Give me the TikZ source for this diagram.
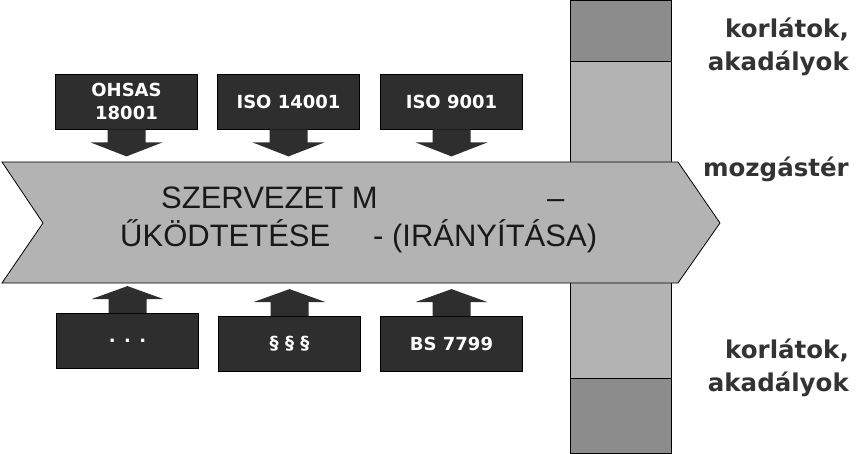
\documentclass[tikz,border=0pt]{standalone}
\usepackage{fontspec}
\setmainfont{DejaVu Sans}
\newfontfamily\arrowfont{Liberation Sans}
\usepackage{tikz}
\usetikzlibrary{positioning, calc}
\definecolor{boxdark}{RGB}{46, 46, 46}
\definecolor{arrowgray}{RGB}{179, 179, 179}
\definecolor{bardark}{RGB}{140, 140, 140}
\definecolor{labeldark}{RGB}{51, 51, 51}

\tikzset{
    stdbox/.style={fill=boxdark, draw=black, line width=0.8pt, minimum width=142, minimum height=55,
        inner sep=0, text=white, align=center, font=\fontsize{18}{23}\selectfont\bfseries},
    arrowtext/.style={inner sep=0, anchor=base west, text=black!90, font=\arrowfont\fontsize{31}{37}\selectfont},
    sidelabel/.style={inner sep=0, anchor=east, align=right, text=labeldark, font=\fontsize{24.5}{33}\selectfont\bfseries}
}

% block arrows below / above a box anchor
\newcommand{\blockdown}[1]{\fill[boxdark] ($(#1)+(-19,0)$) -- ++(0,13) -- ++(-17,0) -- ++(36,14) -- ++(36,-14) -- ++(-17,0) -- ++(0,-13) -- cycle;}
\newcommand{\blockup}[1]{\fill[boxdark] ($(#1)+(-19,0)$) -- ++(0,-14) -- ++(-17,0) -- ++(36,-13) -- ++(36,13) -- ++(-17,0) -- ++(0,14) -- cycle;}

\begin{document}
\begin{tikzpicture}[x=1pt, y=-1pt]
    \useasboundingbox (0,0) rectangle (856,454);

    % Bar
    \fill[arrowgray] (570,0) rectangle (671,453);
    \fill[bardark] (570,0) rectangle (671,61);
    \fill[bardark] (570,378) rectangle (671,453);
    \draw[line width=0.8pt] (570,0) rectangle (671,453);
    \draw[line width=0.8pt] (570,61) -- (671,61);
    \draw[line width=0.8pt] (570,378) -- (671,378);

    % Main arrow
    \filldraw[fill=arrowgray, draw=black, line width=0.8pt]
        (2,162) -- (678,162) -- (720,223) -- (678,283) -- (2,283) -- (43,223) -- cycle;
    \node[arrowtext] (lineone) at (161,209) {SZERVEZET M};
    \node[arrowtext] (dashone) at (547,209) {–};
    \node[arrowtext] (linetwo) at (120,247) {ŰKÖDTETÉSE};
    \node[arrowtext] (linetwob) at (373,247) {- (IRÁNYÍTÁSA)};

    % Standards on top
    \foreach \name/\x/\txt in {ohsas/126.5/{OHSAS\\18001}, isoenv/288.5/{ISO 14001}, isoqual/451.5/{ISO 9001}} {
        \node[stdbox] (\name) at (\x,101.5) {\txt};
        \blockdown{\name.south}
    }

    % Rules below
    \foreach \name/\x/\y/\txt in {other/127.5/341/{. . .}, law/289.5/344/{§ § §}, bsstd/451.5/344/{BS 7799}} {
        \node[stdbox] (\name) at (\x,\y) {\txt};
        \blockup{\name.north}
    }

    % Labels
    \node[sidelabel] (limtop) at (849,47) {korlátok,\\akadályok};
    \node[sidelabel, anchor=base east] (room) at (849,177) {mozgástér};
    \node[sidelabel] (limbottom) at (849,368) {korlátok,\\akadályok};
\end{tikzpicture}
\end{document}
